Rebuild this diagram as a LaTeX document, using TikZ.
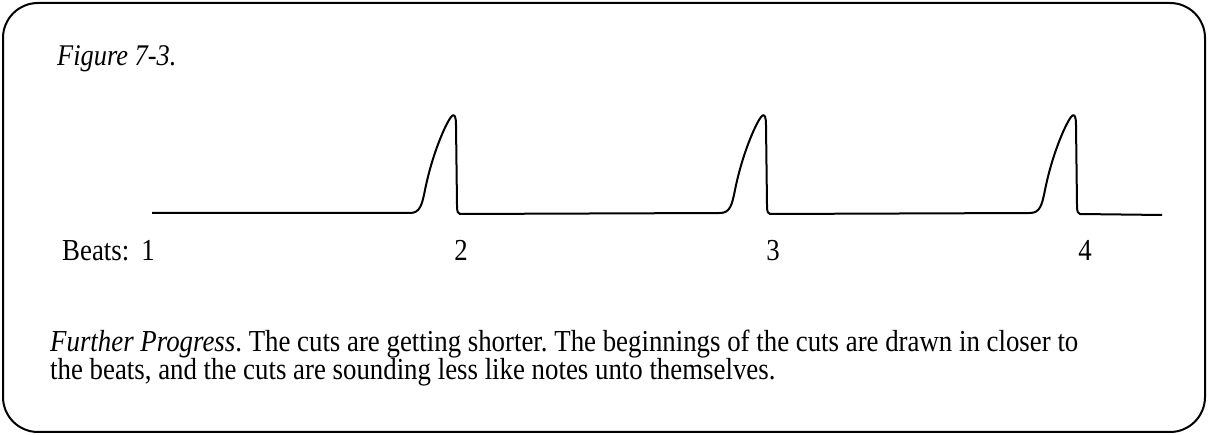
\documentclass[tikz,border=0pt]{standalone}
\usepackage{fontspec}
\setmainfont{Liberation Serif}[FakeStretch=0.88]
\usetikzlibrary{positioning}

\begin{document}
\frenchspacing
\begin{tikzpicture}[
    x=1pt, y=-1pt,
    frame/.style={draw=black, line width=2pt, rounded corners=35pt},
    signal/.style={draw=black, line width=2pt, line join=round},
    beat/.style={anchor=base, inner sep=0pt, font=\fontsize{30.5}{36}\selectfont},
    caption/.style={anchor=base west, inner sep=0pt, align=left, font=\fontsize{30.5}{28.5}\selectfont}
]
    \useasboundingbox (0,0) rectangle (1208,435);
    \draw[frame] (3,3) rectangle (1205,432);
    \node[anchor=base west, inner sep=0pt, font=\fontsize{30}{28}\selectfont\itshape] (title) at (57,66) {Figure 7-3.};
    % the signal with its three cuts
    \def\top{117}
    \draw[signal] (152,213)
      \foreach \p in {453,763,1073} {
        -- ({\p-43},213) .. controls ({\p-33},213) and ({\p-31},205) .. ({\p-28},190)
        .. controls ({\p-21},155) and ({\p-8},125) .. ({\p-2},\top)
        .. controls ({\p+2},112) and ({\p+3},118) .. ({\p+3},125)
        -- ({\p+4},205) .. controls ({\p+4},212) and ({\p+5},214) .. ({\p+7},214)
      } -- (1162,215);
    \node[beat, anchor=base west] (label) at (62,261) {Beats:};
    \foreach \i/\x in {1/148, 2/461, 3/773, 4/1085} {
        \node[beat] (beat\i) at (\x,261) {\i};
    }
    \node[caption] (text) at (50,380) {\textit{Further Progress}. The cuts are getting shorter. The beginnings of the cuts are drawn in closer to\\
      the beats, and the cuts are sounding less like notes unto themselves.};
\end{tikzpicture}
\end{document}
